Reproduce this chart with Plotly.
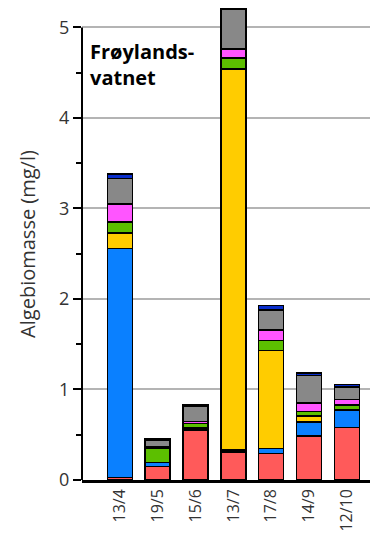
import plotly.graph_objects as go

dates = ["13/4", "19/5", "15/6", "13/7", "17/8", "14/9", "12/10"]

# stacked groups, bottom to top (mg/l)
red = [0.03, 0.15, 0.555, 0.31, 0.295, 0.486, 0.58]
blue = [2.53, 0.045, 0.0, 0.02, 0.055, 0.154, 0.19]
yellow = [0.17, 0.0, 0.022, 4.21, 1.08, 0.069, 0.005]
green = [0.12, 0.16, 0.047, 0.12, 0.11, 0.047, 0.055]
magenta = [0.20, 0.01, 0.022, 0.10, 0.12, 0.093, 0.058]
gray = [0.28, 0.07, 0.17, 0.44, 0.22, 0.308, 0.14]
darkblue = [0.05, 0.02, 0.01, 0.01, 0.047, 0.028, 0.028]

series = [
    ("red", red, "#ff5a5a"),
    ("blue", blue, "#0a80ff"),
    ("yellow", yellow, "#ffcc00"),
    ("green", green, "#5cbf00"),
    ("magenta", magenta, "#ff55ff"),
    ("gray", gray, "#888888"),
    ("darkblue", darkblue, "#0a2ecc"),
]

fig = go.Figure()
for name, vals, col in series:
    fig.add_trace(go.Bar(
        x=dates, y=vals, name=name, width=0.66,
        marker=dict(color=col, line=dict(color="black", width=1.5)),
    ))

# page body has an 8px margin, so the figure is a bit smaller than the window
fig.update_layout(
    barmode="stack",
    width=382, height=531,
    margin=dict(l=74, r=20, t=0, b=58.5),
    plot_bgcolor="white", paper_bgcolor="white",
    showlegend=False,
    font=dict(family="Open Sans", color="#333333"),
    xaxis=dict(
        range=[-1.0, 6.61], automargin=False,
        showline=True, linecolor="black", linewidth=2.5,
        ticks="", tickangle=-90, tickfont=dict(size=16),
        showgrid=False,
    ),
    yaxis=dict(
        range=[0, 5.215], automargin=False,
        tickvals=[0, 1, 2, 3, 4, 5],
        ticks="outside", ticklen=8, tickwidth=1.5, tickcolor="black",
        minor=dict(dtick=0.5, ticks="outside", ticklen=5, tickwidth=1.5,
                   tickcolor="black", showgrid=False),
        showline=False,
        showgrid=True, gridcolor="#b4b4b4", gridwidth=1.5,
        zeroline=False,
        tickfont=dict(size=18),
        title=dict(text="Algebiomasse (mg/l)", font=dict(size=20), standoff=18),
    ),
)

# y axis line only up to 5
fig.add_shape(type="line", xref="paper", yref="y", x0=0, x1=0, y0=0, y1=5,
              line=dict(color="black", width=2))

fig.add_annotation(
    xref="paper", yref="paper", x=0.022, y=0.94,
    xanchor="left", yanchor="top", showarrow=False, align="left",
    text="<b>Frøylands-<br>vatnet</b>", font=dict(size=20, color="black"),
)

fig.write_html("out.html")
